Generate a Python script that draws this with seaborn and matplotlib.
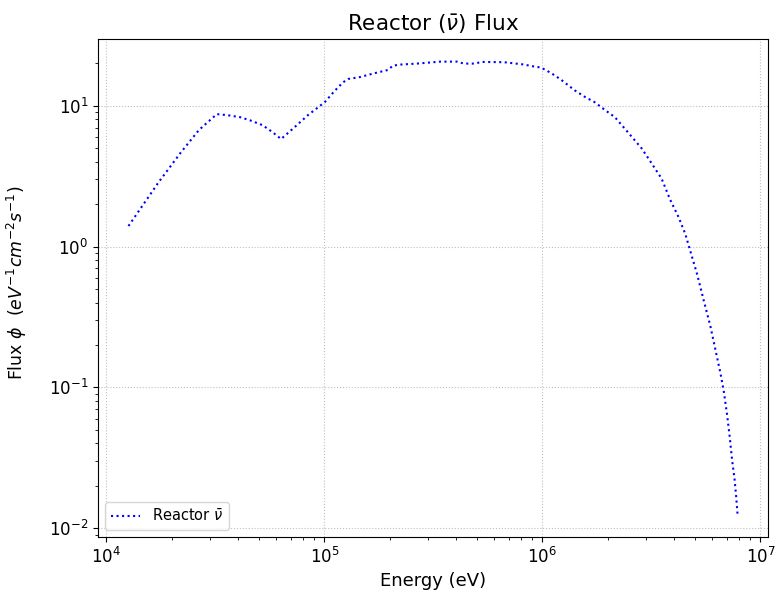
import matplotlib
matplotlib.use("Agg")
import matplotlib.pyplot as plt
import seaborn as sns
import pandas as pd

# Reactor antineutrino flux spectrum
energy_ev = [
    1.263e4, 1.738e4, 2.19e4, 2.66e4, 3.21e4, 3.59e4, 4.11e4, 4.60e4, 5.21e4, 5.79e4,
    6.33e4, 7.29e4, 8.40e4, 1.003e5, 1.116e5, 1.219e5, 1.285e5, 1.455e5, 1.738e5, 1.966e5,
    2.05e5, 2.19e5, 2.66e5, 3.40e5, 4.06e5, 4.36e5, 4.85e5, 5.30e5, 6.67e5, 8.11e5,
    9.18e5, 9.85e5, 1.096e6, 1.219e6, 1.404e6, 1.561e6, 1.738e6, 1.931e6, 2.15e6, 2.43e6,
    2.85e6, 3.17e6, 3.52e6, 3.85e6, 4.21e6, 4.52e6, 4.76e6, 5.12e6, 5.50e6, 5.89e6,
    6.21e6, 6.55e6, 6.79e6, 7.03e6, 7.21e6, 7.41e6, 7.60e6, 7.74e6, 7.85e6,
]
flux = [
    1.40, 2.87, 4.64, 6.74, 8.73, 8.58, 8.30, 7.85, 7.28, 6.49,
    5.81, 7.04, 8.58, 10.6, 12.8, 14.7, 15.5, 16.0, 17.2, 18.0,
    19.2, 19.6, 19.95, 20.6, 20.6, 19.95, 19.95, 20.5, 20.4, 19.7,
    19.0, 18.7, 17.1, 15.3, 12.9, 11.6, 10.6, 9.36, 8.30, 6.66,
    4.99, 3.90, 3.04, 2.16, 1.62, 1.23, 0.936, 0.638, 0.411, 0.273,
    0.186, 0.1265, 0.0936, 0.0638, 0.0459, 0.0305, 0.0225, 0.01665, 0.01253,
]
series_label = r"Reactor $\bar{\nu}$"

df = pd.DataFrame({"energy": energy_ev, "flux": flux})

fig = plt.figure(figsize=(7.76, 5.98), dpi=100)
ax = fig.add_axes([0.1263, 0.102, 0.8634, 0.8328])

sns.lineplot(data=df, x="energy", y="flux", ax=ax, color="blue",
             linestyle=":", linewidth=1.5, label=series_label, sort=False)

ax.set_xscale("log")
ax.set_yscale("log")
ax.grid(True, which="major", linestyle=":", color="#c0c0c0", linewidth=0.8)

ax.set_title(r"Reactor ($\bar{\nu}$) Flux", fontsize=15.5)
ax.set_xlabel("Energy (eV)", fontsize=13)
ax.set_ylabel(r"Flux $\phi$  $(eV^{-1} cm^{-2} s^{-1})$", fontsize=12.5)
ax.yaxis.set_label_coords(-0.103, 0.51)
ax.tick_params(axis="both", which="major", labelsize=12)

ax.legend(loc="lower left", fontsize=10.5)

fig.savefig("out.png", dpi=100)
